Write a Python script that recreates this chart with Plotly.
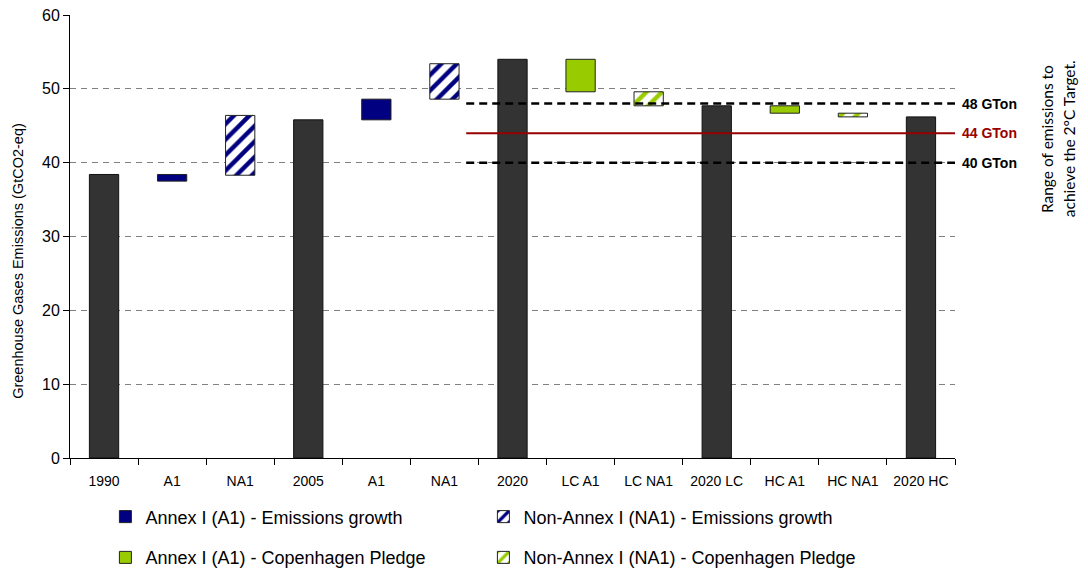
import plotly.graph_objects as go

categories = ["1990", "A1", "NA1", "2005", "A1", "NA1", "2020",
              "LC A1", "LC NA1", "2020 LC", "HC A1", "HC NA1", "2020 HC"]

# Totals (full bars)
total_vals = [38.4, None, None, 45.8, None, None, 54.0, None, None, 47.7, None, None, 46.2]
# Floating bars: low / high
a1_growth_low = [None, 37.5, None, None, 45.8, None, None, None, None, None, None, None, None]
a1_growth_high = [None, 38.4, None, None, 48.6, None, None, None, None, None, None, None, None]
na1_growth_low = [None, None, 38.3, None, None, 48.6, None, None, None, None, None, None, None]
na1_growth_high = [None, None, 46.4, None, None, 53.4, None, None, None, None, None, None, None]
a1_pledge_low = [None, None, None, None, None, None, None, 49.6, None, None, 46.7, None, None]
a1_pledge_high = [None, None, None, None, None, None, None, 54.0, None, None, 47.7, None, None]
na1_pledge_low = [None, None, None, None, None, None, None, None, 47.7, None, None, 46.2, None]
na1_pledge_high = [None, None, None, None, None, None, None, None, 49.6, None, None, 46.7, None]

targets = [48, 44, 40]
target_labels = ["48 GTon", "44 GTon", "40 GTon"]
side_note = ["Range of emissions to", "achieve the 2°C Target."]
y_title = "Greenhouse Gases Emissions (GtCO2-eq)"

pos = list(range(len(categories)))
FONT = "Liberation Sans"
NAVY = "#000080"
GREEN = "#99CC00"
BW = 0.43


def heights(lo, hi):
    return [None if a is None else b - a for a, b in zip(lo, hi)]


fig = go.Figure()
fig.add_trace(go.Bar(x=pos, y=total_vals, width=BW, showlegend=False,
                     marker=dict(color="#333333", line=dict(color="#111111", width=1))))
fig.add_trace(go.Bar(x=pos, y=heights(a1_growth_low, a1_growth_high), base=a1_growth_low,
                     width=BW, name="Annex I (A1) - Emissions growth", legend="legend",
                     marker=dict(color=NAVY, line=dict(color="#222222", width=1))))
fig.add_trace(go.Bar(x=pos, y=heights(na1_growth_low, na1_growth_high), base=na1_growth_low,
                     width=BW, name="Non-Annex I (NA1) - Emissions growth", legend="legend",
                     marker=dict(color="white", line=dict(color="#222222", width=1),
                                 pattern=dict(shape="/", fgcolor=NAVY, bgcolor="white",
                                              fgopacity=1, size=11, solidity=0.4))))
fig.add_trace(go.Bar(x=pos, y=heights(a1_pledge_low, a1_pledge_high), base=a1_pledge_low,
                     width=BW, name="Annex I (A1) - Copenhagen Pledge", legend="legend2",
                     marker=dict(color=GREEN, line=dict(color="#222222", width=1))))
fig.add_trace(go.Bar(x=pos, y=heights(na1_pledge_low, na1_pledge_high), base=na1_pledge_low,
                     width=BW, name="Non-Annex I (NA1) - Copenhagen Pledge", legend="legend2",
                     marker=dict(color="white", line=dict(color="#222222", width=1),
                                 pattern=dict(shape="/", fgcolor=GREEN, bgcolor="white",
                                              fgopacity=1, size=11, solidity=0.4))))

line_styles = [dict(color="black", width=2.5, dash="8px,5px"),
               dict(color="#990000", width=2),
               dict(color="black", width=2.5, dash="8px,5px")]
label_colors = ["black", "#990000", "black"]
for t, lab, ls, lc in zip(targets, target_labels, line_styles, label_colors):
    fig.add_shape(type="line", xref="x", yref="y", x0=5.32, x1=12.55, y0=t, y1=t, line=ls)
    fig.add_annotation(xref="paper", yref="y", x=1, y=t, text=f"<b>{lab}</b>",
                       showarrow=False, xanchor="left", xshift=5,
                       font=dict(family=FONT, size=14, color=lc))

for txt, xp in zip(side_note, [1.104, 1.129]):
    fig.add_annotation(xref="paper", yref="paper", x=xp, y=0.72, text=txt,
                       textangle=-90, showarrow=False, xanchor="center", yanchor="middle",
                       font=dict(family="Lato", size=15.5, color="black"))

fig.add_annotation(xref="paper", yref="paper", x=-0.0588, y=0.445, text=y_title,
                   textangle=-90, showarrow=False, xanchor="center", yanchor="middle",
                   font=dict(family=FONT, size=14.5, color="black"))

legend_common = dict(orientation="h", xanchor="left", yanchor="middle",
                     font=dict(family=FONT, size=18, color="black"),
                     entrywidth=333, entrywidthmode="pixels", itemwidth=30,
                     bgcolor="rgba(0,0,0,0)", traceorder="normal")

fig.update_layout(
    width=1080, height=564,
    margin=dict(l=62, r=133, t=7, b=114, autoexpand=False),
    paper_bgcolor="white", plot_bgcolor="white",
    barmode="overlay",
    font=dict(family=FONT, size=14, color="black"),
    legend=dict(x=0.04, y=-0.133, **legend_common),
    legend2=dict(x=0.04, y=-0.225, **legend_common),
    xaxis=dict(range=[-0.5, 12.5], tickmode="array", tickvals=pos, ticktext=categories,
               ticks="", showline=True, linecolor="black", linewidth=1, automargin=False,
               showgrid=False, zeroline=False, ticklabelstandoff=10,
               ticklabeloverflow="allow",
               tickfont=dict(family=FONT, size=14),
               minor=dict(tickmode="linear", tick0=-0.5, dtick=1, ticks="outside",
                          ticklen=6, tickcolor="black", showgrid=False)),
    yaxis=dict(range=[0, 60], dtick=10, ticks="outside", ticklen=6, tickcolor="black",
               showline=True, linecolor="black", linewidth=1, zeroline=False, automargin=False,
               showgrid=True, gridcolor="#808080", gridwidth=1, griddash="6px,5px",
               ticklabeloverflow="allow",
               tickfont=dict(family=FONT, size=16)),
)

fig.write_html("out.html")
